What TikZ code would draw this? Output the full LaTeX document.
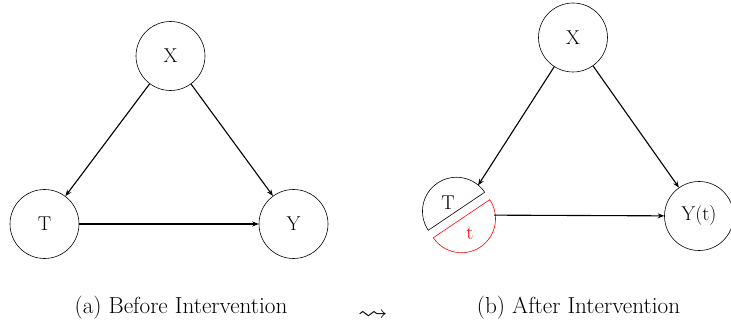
\documentclass[tikz,border=0pt]{standalone}
\usepackage{amssymb}
\usepackage{fontspec}
\usepackage{graphicx}
\usetikzlibrary{arrows.meta}
\begin{document}
\begin{tikzpicture}[x=1pt,y=1pt,
  var/.style={circle,draw,line width=0.6pt,minimum size=69pt,inner sep=0pt,font=\fontsize{20}{23}\selectfont},
  lbl/.style={inner sep=0pt,font=\fontsize{20}{23}\selectfont},
  edge/.style={-{Stealth[length=6.5pt,width=5pt]},line width=1.1pt},
  captext/.style={inner sep=0pt,font=\fontsize{23.2}{27}\selectfont}]
\useasboundingbox (0,0) rectangle (731,327);
% (a)
\node[var] (X1) at (170.5,271) {X};
\node[var] (T1) at (44.5,103) {T};
\node[var] (Y1) at (293.5,103) {Y};
\draw[edge] (X1) -- (T1);
\draw[edge] (T1) -- (Y1);
\draw[edge] (X1) -- (Y1);
\node[captext] (ca) at (181,19) {(a) Before Intervention};
% squiggle
\node[captext] (sq) at (373,11) {\scalebox{1.3}[1.1]{$\leadsto$}};
% (b)
\node[var] (X2) at (573,289.5) {X};
\node[var] (Y2) at (699,111) {Y(t)};
\node[circle,minimum size=70pt,inner sep=0pt] (T2) at (459,112) {};
\coordinate (Tt) at ([shift={(124:4.5)}]T2.center);
\coordinate (Tb) at ([shift={(-56:4.5)}]T2.center);
\draw[line width=0.6pt] ([shift={(34:34)}]Tt) arc (34:214:34) -- cycle;
\draw[line width=0.6pt,red] ([shift={(214:34)}]Tb) arc (214:394:34) -- cycle;
\node[lbl] (Tl) at (448,124) {T};
\node[lbl,red] (tl) at (470,94) {t};
\draw[edge] (X2) -- (T2);
\draw[edge] (T2) -- (Y2);
\draw[edge] (X2) -- (Y2);
\node[captext] (cb) at (578.5,19) {(b) After Intervention};
\end{tikzpicture}
\end{document}
